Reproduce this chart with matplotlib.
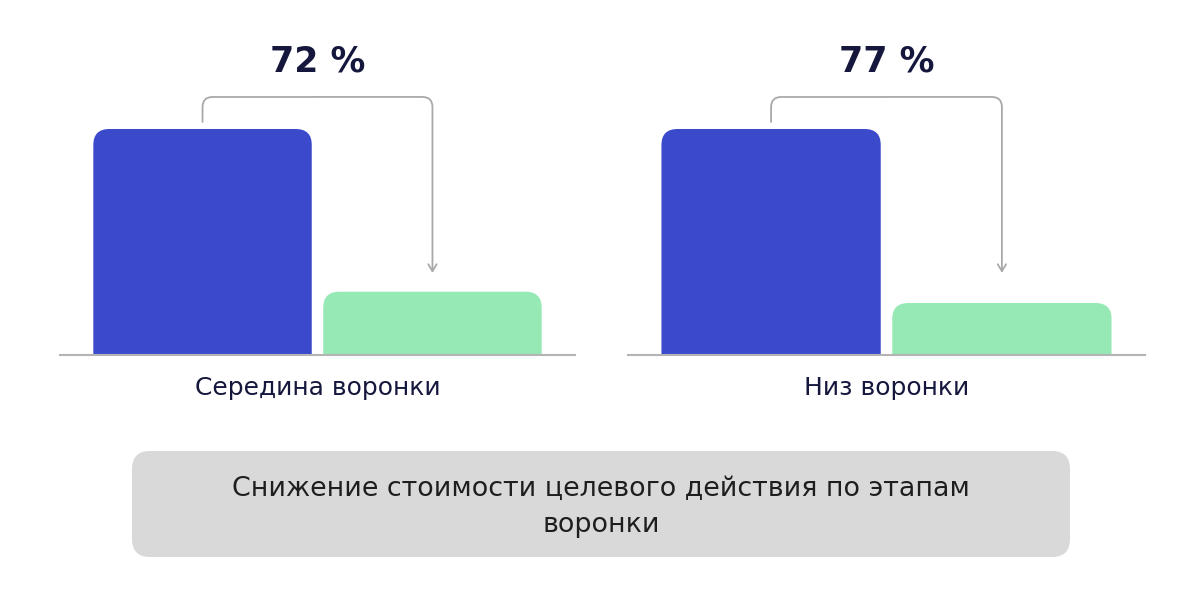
import matplotlib.pyplot as plt
from matplotlib.patches import FancyBboxPatch

### Données

groupes = ["Середина воронки", "Низ воронки"]
avant = [100, 100]          # coût avant (base 100)
apres = [28, 23]            # coût après
baisse = ["72 %", "77 %"]
legende = "Снижение стоимости целевого действия по этапам\nворонки"

### Style

bleu = "#3b4acb"
vert = "#96e8b4"
gris = "#a9a9a9"
encre = "#15173d"
largeur = 0.95
y_fleche = 36.3      # hauteur de la pointe de flèche
y_depart = 103.1     # départ du crochet au-dessus de la barre bleue

fig = plt.figure(figsize=(12.04, 6.05), dpi=100)
W, H = 1204, 605


def axes_px(x0, x1, y_top, y_bas):
    return fig.add_axes([x0 / W, 1 - y_bas / H, (x1 - x0) / W, (y_bas - y_top) / H])


def barre(ax, x, h, couleur):
    r = 0.07
    asp = 100
    p = FancyBboxPatch((x - largeur / 2 + r, -20), largeur - 2 * r, h + 20 - r * asp,
                       boxstyle="round,pad=%f,rounding_size=%f" % (r, r),
                       mutation_aspect=asp, fc=couleur, ec="none", lw=0)
    p.set_clip_on(True)
    ax.add_patch(p)


positions = [(60, 575), (628, 1145)]
for i in range(len(groupes)):
    x0, x1 = positions[i]
    ax = axes_px(x0, x1, 30, 355)
    ax.set_xlim(-0.62, 1.62)
    ax.set_ylim(0, 143.8)
    for s in ["top", "right", "left"]:
        ax.spines[s].set_visible(False)
    ax.spines["bottom"].set_color("#b4b4b4")
    ax.spines["bottom"].set_linewidth(1.5)
    ax.set_xticks([])
    ax.set_yticks([])
    ax.patch.set_alpha(0)

    barre(ax, 0, avant[i], bleu)
    barre(ax, 1, apres[i], vert)

    # crochet avec flèche (bras en pixels)
    ax.annotate("", xy=(1, y_fleche), xytext=(0, y_depart),
                arrowprops=dict(arrowstyle="->,head_length=0.5,head_width=0.3",
                                color=gris, lw=1.3, shrinkA=0, shrinkB=0,
                                connectionstyle="arc,angleA=90,angleB=90,armA=25,armB=176,rad=10"),
                annotation_clip=False)

    ax.text(0.5, (355 - 62) / 325, baisse[i], transform=ax.transAxes,
            ha="center", va="center", fontsize=25, fontweight="bold", color=encre)
    ax.text(0.5, -(388 - 355) / 325, groupes[i], transform=ax.transAxes,
            ha="center", va="center", fontsize=18, color=encre)

# cadre gris du bas
axb = axes_px(0, W, 0, H)
axb.set_xlim(0, W)
axb.set_ylim(H, 0)
axb.axis("off")
axb.patch.set_alpha(0)
axb.add_patch(FancyBboxPatch((132 + 18, 451 + 18), 938 - 36, 106 - 36,
                             boxstyle="round,pad=18,rounding_size=18",
                             fc="#d9d9d9", ec="none"))
axb.text(601, 507, legende, ha="center", va="center", fontsize=19.4,
         color="#1e1e1e", linespacing=1.5)

fig.savefig("out.png", dpi=100)
